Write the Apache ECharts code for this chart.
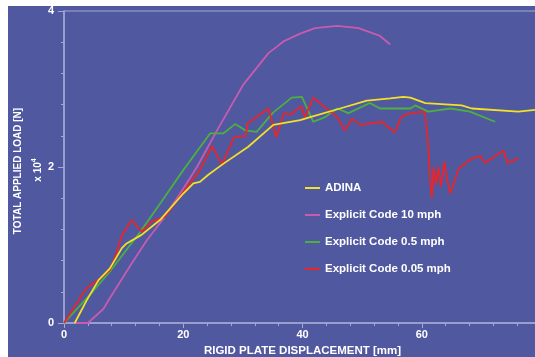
<!DOCTYPE html>
<html><head><meta charset="utf-8">
<script src="https://cdn.jsdelivr.net/npm/echarts@6/dist/echarts.min.js"></script>
<style>
html,body{margin:0;padding:0;background:#fff;}
#bg{position:absolute;left:8px;top:6px;width:527px;height:351px;background:#5058a0;}
#chart{position:absolute;left:0;top:0;width:535px;height:357px;}
</style></head>
<body>
<div id="bg"></div>
<div id="chart"></div>
<script>
// ---- data (load in units of 10^4 N, displacement in mm) ----
const seriesNames = ['ADINA', 'Explicit Code 10 mph', 'Explicit Code 0.5 mph', 'Explicit Code 0.05 mph'];

const adinaX = [1.8, 3.8, 5.8, 7.7, 9.7, 10.5, 13.0, 16.1, 20.0, 21.7, 22.8, 24.2, 26.7, 30.9, 35.1, 39.6, 41.3, 46.3, 50.8, 54.7, 56.9, 58.1, 60.6, 66.7, 68.4, 76.2, 80];
const adinaY = [0, 0.29, 0.55, 0.70, 0.96, 1.02, 1.13, 1.32, 1.66, 1.79, 1.81, 1.90, 2.04, 2.26, 2.54, 2.60, 2.64, 2.75, 2.85, 2.88, 2.90, 2.89, 2.82, 2.79, 2.75, 2.71, 2.74];

const mph10X = [2.0, 4.0, 6.6, 7.7, 11.4, 13.9, 16.7, 20.0, 22.3, 25.6, 30.1, 34.3, 36.8, 39.6, 42.1, 45.8, 49.4, 53.0, 54.7];
const mph10Y = [0, 0, 0.18, 0.32, 0.77, 1.06, 1.34, 1.72, 2.00, 2.46, 3.06, 3.46, 3.61, 3.71, 3.78, 3.81, 3.78, 3.68, 3.57];

const mph05X = [0, 4.9, 7.7, 12.8, 16.1, 20.0, 24.5, 26.7, 28.7, 30.4, 32.3, 35.1, 38.2, 39.9, 41.8, 43.8, 45.8, 47.7, 51.3, 53.0, 58.1, 58.9, 61.1, 64.8, 68.1, 72.3];
const mph05Y = [0, 0.41, 0.66, 1.17, 1.53, 1.96, 2.43, 2.43, 2.55, 2.47, 2.45, 2.70, 2.89, 2.90, 2.58, 2.64, 2.75, 2.69, 2.82, 2.75, 2.75, 2.79, 2.71, 2.75, 2.71, 2.58];

const mph005X = [0, 3.8, 5.7, 7.7, 8.6, 9.6, 10.2, 11.4, 13.0, 14.7, 16.9, 21.0, 22.8, 24.8, 26.5, 28.5, 30.5, 30.8, 34.3, 35.6, 36.9, 38.0, 39.8, 40.4, 41.8, 45.8, 47.1, 48.3, 49.7, 53.3, 55.5, 56.4, 57.2, 58.3, 60.3, 60.6, 61.1, 61.4, 61.7, 62.0, 62.4, 62.8, 63.2, 63.8, 64.3, 64.8, 66.2, 68.4, 69.8, 70.6, 73.7, 74.4, 76.2];
const mph005Y = [0, 0.45, 0.55, 0.68, 0.85, 1.10, 1.19, 1.32, 1.17, 1.30, 1.36, 1.78, 1.96, 2.27, 2.03, 2.38, 2.40, 2.56, 2.75, 2.38, 2.69, 2.67, 2.78, 2.64, 2.89, 2.64, 2.47, 2.62, 2.54, 2.58, 2.44, 2.62, 2.67, 2.69, 2.71, 2.67, 2.26, 1.83, 1.60, 2.00, 1.77, 2.00, 1.75, 2.07, 1.83, 1.66, 1.98, 2.11, 2.14, 2.05, 2.21, 2.05, 2.11];

const xTicks = [0, 20, 40, 60, 80];
const yTicks = [0, 2, 4];

const zip = (xs, ys) => xs.map((x, i) => [x, ys[i]]);

const FONT = '"Liberation Sans", Arial, Helvetica, sans-serif';
const axisCol = '#a4a8d4';

const chart = echarts.init(document.getElementById('chart'), null, {renderer: 'canvas'});

function mk(name, data, color) {
  return {
    name, type: 'line', data, showSymbol: false, symbol: 'none',
    lineStyle: {color, width: 1.8}, itemStyle: {color},
    animation: false, clip: true
  };
}

chart.setOption({
  backgroundColor: 'transparent',
  animation: false,
  grid: {left: 64, top: 11, bottom: 34, right: -6, containLabel: false, outerBoundsMode: 'none',
         show: true, borderColor: axisCol, borderWidth: 1, backgroundColor: 'transparent'},
  xAxis: {
    type: 'value', min: xTicks[0], max: xTicks[xTicks.length - 1], interval: 20,
    axisLine: {show: true, lineStyle: {color: axisCol, width: 1.5}},
    axisTick: {show: true, length: 5, lineStyle: {color: axisCol}},
    minorTick: {show: true, splitNumber: 5, length: 3, lineStyle: {color: axisCol}},
    splitLine: {show: false},
    axisLabel: {color: '#fff', fontWeight: 'bold', fontSize: 11, fontFamily: FONT, margin: 6,
      formatter: v => xTicks.includes(v) ? String(v) : ''},
    name: 'RIGID PLATE DISPLACEMENT [mm]', nameLocation: 'middle', nameGap: 18,
    nameTextStyle: {color: '#fff', fontWeight: 'bold', fontSize: 11.5, fontFamily: FONT}
  },
  yAxis: {
    type: 'value', min: yTicks[0], max: yTicks[yTicks.length - 1], interval: 2,
    axisLine: {show: true, lineStyle: {color: axisCol, width: 1.5}},
    axisTick: {show: true, length: 6, lineStyle: {color: axisCol}},
    minorTick: {show: true, splitNumber: 5, length: 3, lineStyle: {color: axisCol}},
    splitLine: {show: false},
    axisLabel: {color: '#fff', fontWeight: 'bold', fontSize: 11, fontFamily: FONT, margin: 10,
      formatter: v => yTicks.includes(v) ? String(v) : ''}
  },
  graphic: [
    {type: 'text', x: 18, y: 171, rotation: Math.PI / 2,
     style: {text: 'TOTAL APPLIED LOAD [N]', fill: '#fff', font: 'bold 10px ' + FONT, textAlign: 'center', textVerticalAlign: 'middle'}},
    {type: 'text', x: 37, y: 170, rotation: Math.PI / 2,
     style: {text: '{a|x 10}{b|4}', fill: '#fff', textAlign: 'center', textVerticalAlign: 'middle',
       rich: {a: {fontSize: 10, fontWeight: 'bold', fontFamily: FONT, fill: '#fff', verticalAlign: 'bottom'},
              b: {fontSize: 7, fontWeight: 'bold', fontFamily: FONT, fill: '#fff', verticalAlign: 'top', padding: [0, 0, 5, 0]}}}}
  ],
  legend: {
    data: seriesNames, orient: 'vertical', left: 300, top: 176,
    icon: 'rect', itemWidth: 15, itemHeight: 2, itemGap: 13,
    textStyle: {color: '#fff', fontWeight: 'bold', fontSize: 11.5, fontFamily: FONT, lineHeight: 14}
  },
  series: [
    mk(seriesNames[1], zip(mph10X, mph10Y), '#c65bb0'),
    mk(seriesNames[2], zip(mph05X, mph05Y), '#4cb040'),
    mk(seriesNames[3], zip(mph005X, mph005Y), '#e8262a'),
    mk(seriesNames[0], zip(adinaX, adinaY), '#f2e126')
  ]
});
</script>
</body></html>
